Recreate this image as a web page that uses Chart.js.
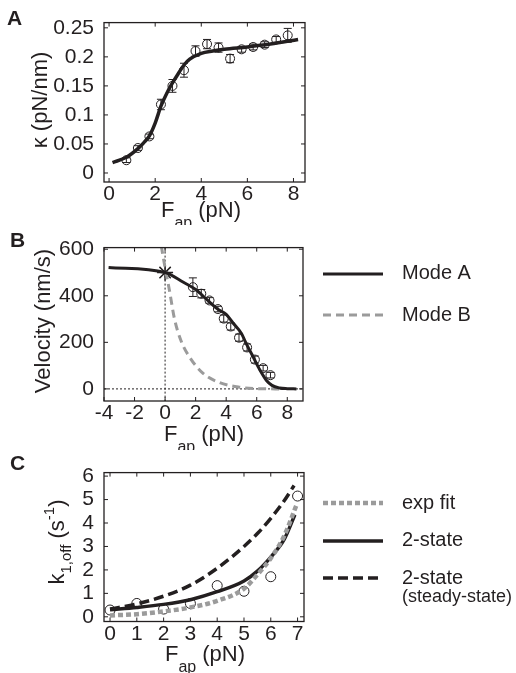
<!DOCTYPE html>
<html>
<head>
<meta charset="utf-8">
<script src="https://cdn.jsdelivr.net/npm/chart.js@4.4.1/dist/chart.umd.min.js"></script>
<style>
  body { margin: 0; background: #fff; }
  canvas { position: absolute; left: 0; }
</style>
</head>
<body>
<canvas id="chartA" width="516" height="225" style="top:0px"></canvas>
<canvas id="chartB" width="516" height="225" style="top:225px"></canvas>
<canvas id="chartC" width="516" height="223" style="top:450px"></canvas>
<script>
// ---- A: stiffness vs applied force
const forceA = [0.75, 1.25, 1.75, 2.25, 2.75, 3.25, 3.75, 4.25, 4.75, 5.25, 5.75, 6.25, 6.75, 7.25, 7.75];
const kappaA = [0.022, 0.043, 0.063, 0.118, 0.15, 0.177, 0.21, 0.222, 0.216, 0.197, 0.213, 0.217, 0.221, 0.23, 0.237];
const kappaErrA = [0.004, 0.004, 0.004, 0.009, 0.011, 0.012, 0.009, 0.008, 0.008, 0.007, 0.005, 0.005, 0.005, 0.005, 0.012];
const fitForceA = [0.15, 0.75, 1.25, 1.5, 1.75, 2.0, 2.25, 2.5, 2.75, 3.0, 3.25, 3.5, 4.0, 4.5, 5.0, 6.0, 7.0, 8.2];
const fitKappaA = [0.018, 0.027, 0.042, 0.052, 0.064, 0.086, 0.115, 0.137, 0.155, 0.171, 0.186, 0.196, 0.206, 0.21, 0.213, 0.217, 0.222, 0.23];
const ticksAX = [0, 2, 4, 6, 8];
const ticksAY = [0, 0.05, 0.1, 0.15, 0.2, 0.25];

// ---- B: velocity vs applied force
const forceB = [1.82, 2.37, 2.91, 3.46, 3.84, 4.3, 4.84, 5.37, 5.88, 6.42, 6.9];
const velocityB = [437, 409, 380, 343, 302, 268, 220, 178, 126, 89, 59];
const velocityErrB = [40, 18, 12, 12, 15, 15, 15, 15, 15, 12, 12];
const unloadedB = [{ x: 0, y: 500 }];
const modeAForce = [-3.7, 0, 1.2, 2.0, 2.7, 3.4, 4.0, 4.45, 5.0, 5.33, 5.77, 6.2, 6.64, 7.0, 7.5, 8.0, 8.6];
const modeAVel = [522, 500, 458, 427, 386, 345, 320, 283, 238, 192, 137, 82, 36, 15, 4, 1, 0];
const modeBForce = [-0.25, 0, 0.28, 0.61, 1.05, 1.6, 2.47, 3.57, 4.89, 6.0, 7.5];
const modeBVel = [615, 520, 425, 302, 206, 137, 68, 27, 7, 1, 0];
const ticksBX = [-4, -2, 0, 2, 4, 6, 8];
const ticksBY = [0, 200, 400, 600];
const legendB = ['Mode A', 'Mode B'];

// ---- C: off rate vs applied force
const forceC = [0, 1, 2, 3, 4, 5, 6, 7];
const koffC = [0.29, 0.57, 0.33, 0.57, 1.33, 1.09, 1.71, 5.15];
const expFitForce = [0, 1, 2, 3, 4, 5, 5.5, 6, 6.5, 6.97];
const expFitK = [0.06, 0.11, 0.23, 0.4, 0.68, 1.2, 1.8, 2.5, 3.45, 4.8];
const twoStateForce = [0, 1, 2, 3, 4, 5, 5.5, 6, 6.5, 6.9];
const twoStateK = [0.3, 0.4, 0.53, 0.73, 1.07, 1.53, 1.95, 2.55, 3.3, 4.35];
const steadyForce = [0, 1, 2, 3, 4, 5, 5.5, 6, 6.5, 6.87];
const steadyK = [0.33, 0.55, 0.88, 1.35, 2.07, 3.0, 3.55, 4.2, 4.95, 5.6];
const ticksCX = [0, 1, 2, 3, 4, 5, 6, 7];
const ticksCY = [0, 1, 2, 3, 4, 5, 6];
const legendC = ['exp fit', '2-state', '2-state', '(steady-state)'];

const FONT = '"Liberation Sans", Arial, sans-serif';
const INK = '#231f20';
const GREY = '#9b9b9b';

const pts = (xs, ys) => xs.map((x, i) => ({ x: x, y: ys[i] }));

// matlab style box with inward ticks on all sides
const boxPlugin = {
  id: 'box',
  afterDraw(chart) {
    const { ctx, chartArea: a, scales: { x, y } } = chart;
    ctx.save();
    ctx.strokeStyle = INK;
    ctx.lineWidth = 1.3;
    ctx.strokeRect(a.left, a.top, a.right - a.left, a.bottom - a.top);
    ctx.lineWidth = 1;
    ctx.beginPath();
    x.ticks.forEach(t => {
      const px = x.getPixelForValue(t.value);
      ctx.moveTo(px, a.bottom); ctx.lineTo(px, a.bottom - 4);
      ctx.moveTo(px, a.top); ctx.lineTo(px, a.top + 4);
    });
    y.ticks.forEach(t => {
      const py = y.getPixelForValue(t.value);
      ctx.moveTo(a.left, py); ctx.lineTo(a.left + 4, py);
      ctx.moveTo(a.right, py); ctx.lineTo(a.right - 4, py);
    });
    ctx.stroke();
    ctx.restore();
  }
};

// dotted zero lines (panel B)
const zeroPlugin = {
  id: 'zeroLines',
  beforeDatasetsDraw(chart) {
    const { ctx, chartArea: a, scales: { x, y } } = chart;
    const x0 = x.getPixelForValue(0), y0 = y.getPixelForValue(0);
    ctx.save();
    ctx.strokeStyle = INK;
    ctx.lineWidth = 1;
    ctx.setLineDash([2, 2]);
    ctx.beginPath();
    ctx.moveTo(x0, a.top); ctx.lineTo(x0, a.bottom);
    ctx.moveTo(a.left, y0); ctx.lineTo(a.right, y0);
    ctx.stroke();
    ctx.restore();
  }
};

const errorPlugin = {
  id: 'errorBars',
  afterDatasetsDraw(chart) {
    const { ctx, scales: { x, y } } = chart;
    ctx.save();
    ctx.strokeStyle = INK;
    ctx.lineWidth = 1;
    chart.data.datasets.forEach(ds => {
      if (!ds.errorBars) return;
      ds.data.forEach((p, i) => {
        const px = x.getPixelForValue(p.x);
        const lo = y.getPixelForValue(p.y - ds.errorBars[i]);
        const hi = y.getPixelForValue(p.y + ds.errorBars[i]);
        ctx.beginPath();
        ctx.moveTo(px, lo); ctx.lineTo(px, hi);
        ctx.moveTo(px - 4, lo); ctx.lineTo(px + 4, lo);
        ctx.moveTo(px - 4, hi); ctx.lineTo(px + 4, hi);
        ctx.stroke();
      });
    });
    ctx.restore();
  }
};

// text with sub/superscripts, runs = [[text, size, dy], ...]
function drawRuns(ctx, runs, cx, base, rotate) {
  ctx.save();
  ctx.fillStyle = INK;
  ctx.textBaseline = 'alphabetic';
  let w = 0;
  runs.forEach(r => { ctx.font = r[1] + 'px ' + FONT; w += ctx.measureText(r[0]).width; });
  if (rotate) {
    ctx.translate(base, cx);
    ctx.rotate(-Math.PI / 2);
  } else {
    ctx.translate(cx, base);
  }
  let pos = -w / 2;
  runs.forEach(r => {
    ctx.font = r[1] + 'px ' + FONT;
    ctx.fillText(r[0], pos, r[2] || 0);
    pos += ctx.measureText(r[0]).width;
  });
  ctx.restore();
}

const titlePlugin = {
  id: 'titles',
  afterDraw(chart, args, o) {
    const ctx = chart.ctx;
    ctx.save();
    ctx.fillStyle = INK;
    ctx.font = 'bold 21px ' + FONT;
    ctx.fillText(o.letter[0], o.letter[1], o.letter[2]);
    ctx.restore();
    drawRuns(ctx, o.xTitle, o.xPos[0], o.xPos[1], false);
    drawRuns(ctx, o.yTitle, o.yPos[0], o.yPos[1], true);
  }
};

const legendPlugin = {
  id: 'sideLegend',
  afterDraw(chart, args, o) {
    if (!o.items) return;
    const ctx = chart.ctx;
    ctx.save();
    o.items.forEach(it => {
      if (it.ds !== undefined) {
        const ds = chart.data.datasets[it.ds];
        ctx.strokeStyle = ds.borderColor;
        ctx.lineWidth = ds.borderWidth;
        ctx.setLineDash(ds.borderDash || []);
        ctx.beginPath();
        ctx.moveTo(323, it.y); ctx.lineTo(383, it.y);
        ctx.stroke();
      }
      ctx.fillStyle = INK;
      ctx.font = it.size + 'px ' + FONT;
      ctx.textBaseline = 'middle';
      ctx.fillText(it.text, 402, it.ty);
    });
    ctx.restore();
  }
};

function axis(min, max, ticks, fit) {
  return {
    type: 'linear', min: min, max: max,
    afterBuildTicks: s => { s.ticks = ticks.map(v => ({ value: v })); },
    afterFit: fit,
    grid: { display: false, drawTicks: false },
    border: { display: false },
    ticks: { font: { family: FONT, size: 21 }, color: INK, autoSkip: false, maxRotation: 0, callback: v => String(v) }
  };
}

function panel(id, datasets, cfg) {
  const xAxis = axis(cfg.xr[0], cfg.xr[1], cfg.xt, s => { s.height = cfg.xh; });
  xAxis.ticks.padding = 0;
  const yAxis = axis(cfg.yr[0], cfg.yr[1], cfg.yt, s => { s.width = cfg.left; });
  yAxis.ticks.padding = 10;
  return new Chart(document.getElementById(id), {
    type: 'scatter',
    data: { datasets: datasets },
    options: {
      responsive: false,
      animation: false,
      layout: { padding: { top: cfg.top, right: 516 - cfg.right, left: 0, bottom: 0 } },
      plugins: {
        legend: { display: false },
        tooltip: { enabled: false },
        titles: cfg.titles,
        sideLegend: { items: cfg.legend }
      },
      scales: { x: xAxis, y: yAxis }
    },
    plugins: [boxPlugin, errorPlugin, titlePlugin, legendPlugin].concat(cfg.extra || [])
  });
}

const line = (data, color, width, dash) => ({
  data: data, showLine: true, borderColor: color, borderWidth: width, borderDash: dash || [],
  pointRadius: 0, cubicInterpolationMode: 'monotone', fill: false
});
const circles = (data, r, err) => ({
  data: data, showLine: false, pointStyle: 'circle', pointRadius: r,
  borderColor: INK, backgroundColor: 'rgba(0,0,0,0)', pointBorderWidth: 1, borderWidth: 1, errorBars: err
});

const fTitle = [['F', 22], ['ap', 16, 11], [' (pN)', 22]];

window.onload = () => {
  panel('chartA', [
    line(pts(fitForceA, fitKappaA), INK, 3.5),
    circles(pts(forceA, kappaA), 4.5, kappaErrA)
  ], {
    xr: [-0.22, 8.5], yr: [-0.0155, 0.259], xt: ticksAX, yt: ticksAY,
    top: 17, right: 305, left: 104, xh: 43,
    titles: {
      letter: ['A', 7, 25],
      xTitle: fTitle, xPos: [201, 217],
      yTitle: [['\u03ba (pN/nm)', 22]], yPos: [100, 47]
    }
  });

  panel('chartB', [
    line(pts(modeAForce, modeAVel), INK, 3),
    line(pts(modeBForce, modeBVel), GREY, 3, [8, 5]),
    circles(pts(forceB, velocityB), 4.5, velocityErrB),
    { data: unloadedB, showLine: false, pointStyle: 'star', pointRadius: 8, borderColor: INK, pointBorderWidth: 1.5 }
  ], {
    xr: [-4, 9.03], yr: [-52, 607], xt: ticksBX, yt: ticksBY,
    top: 16, right: 303, left: 104, xh: 49,
    titles: {
      letter: ['B', 10, 22],
      xTitle: fTitle, xPos: [204, 216],
      yTitle: [['Velocity (nm/s)', 22]], yPos: [96, 50]
    },
    legend: [
      { ds: 0, y: 49, text: legendB[0], ty: 48, size: 20 },
      { ds: 1, y: 90, text: legendB[1], ty: 90, size: 20 }
    ],
    extra: [zeroPlugin]
  });

  panel('chartC', [
    line(pts(expFitForce, expFitK), GREY, 4.5, [5, 3]),
    line(pts(twoStateForce, twoStateK), INK, 3.5),
    line(pts(steadyForce, steadyK), INK, 3.5, [10, 5]),
    circles(pts(forceC, koffC), 5, null)
  ], {
    xr: [-0.225, 7.24], yr: [-0.2, 6.15], xt: ticksCX, yt: ticksCY,
    top: 12, right: 304, left: 104, xh: 51.5,
    titles: {
      letter: ['C', 10, 20],
      xTitle: fTitle, xPos: [205, 211],
      yTitle: [['k', 22], ['1,off', 15, 7], [' (s', 22], ['-1', 15, -10], [')', 22]], yPos: [92, 64]
    },
    legend: [
      { ds: 0, y: 53, text: legendC[0], ty: 53, size: 20 },
      { ds: 1, y: 91, text: legendC[1], ty: 90, size: 20 },
      { ds: 2, y: 128, text: legendC[2], ty: 128, size: 20 },
      { y: 147, text: legendC[3], ty: 147, size: 18 }
    ]
  });
};
</script>
</body>
</html>
